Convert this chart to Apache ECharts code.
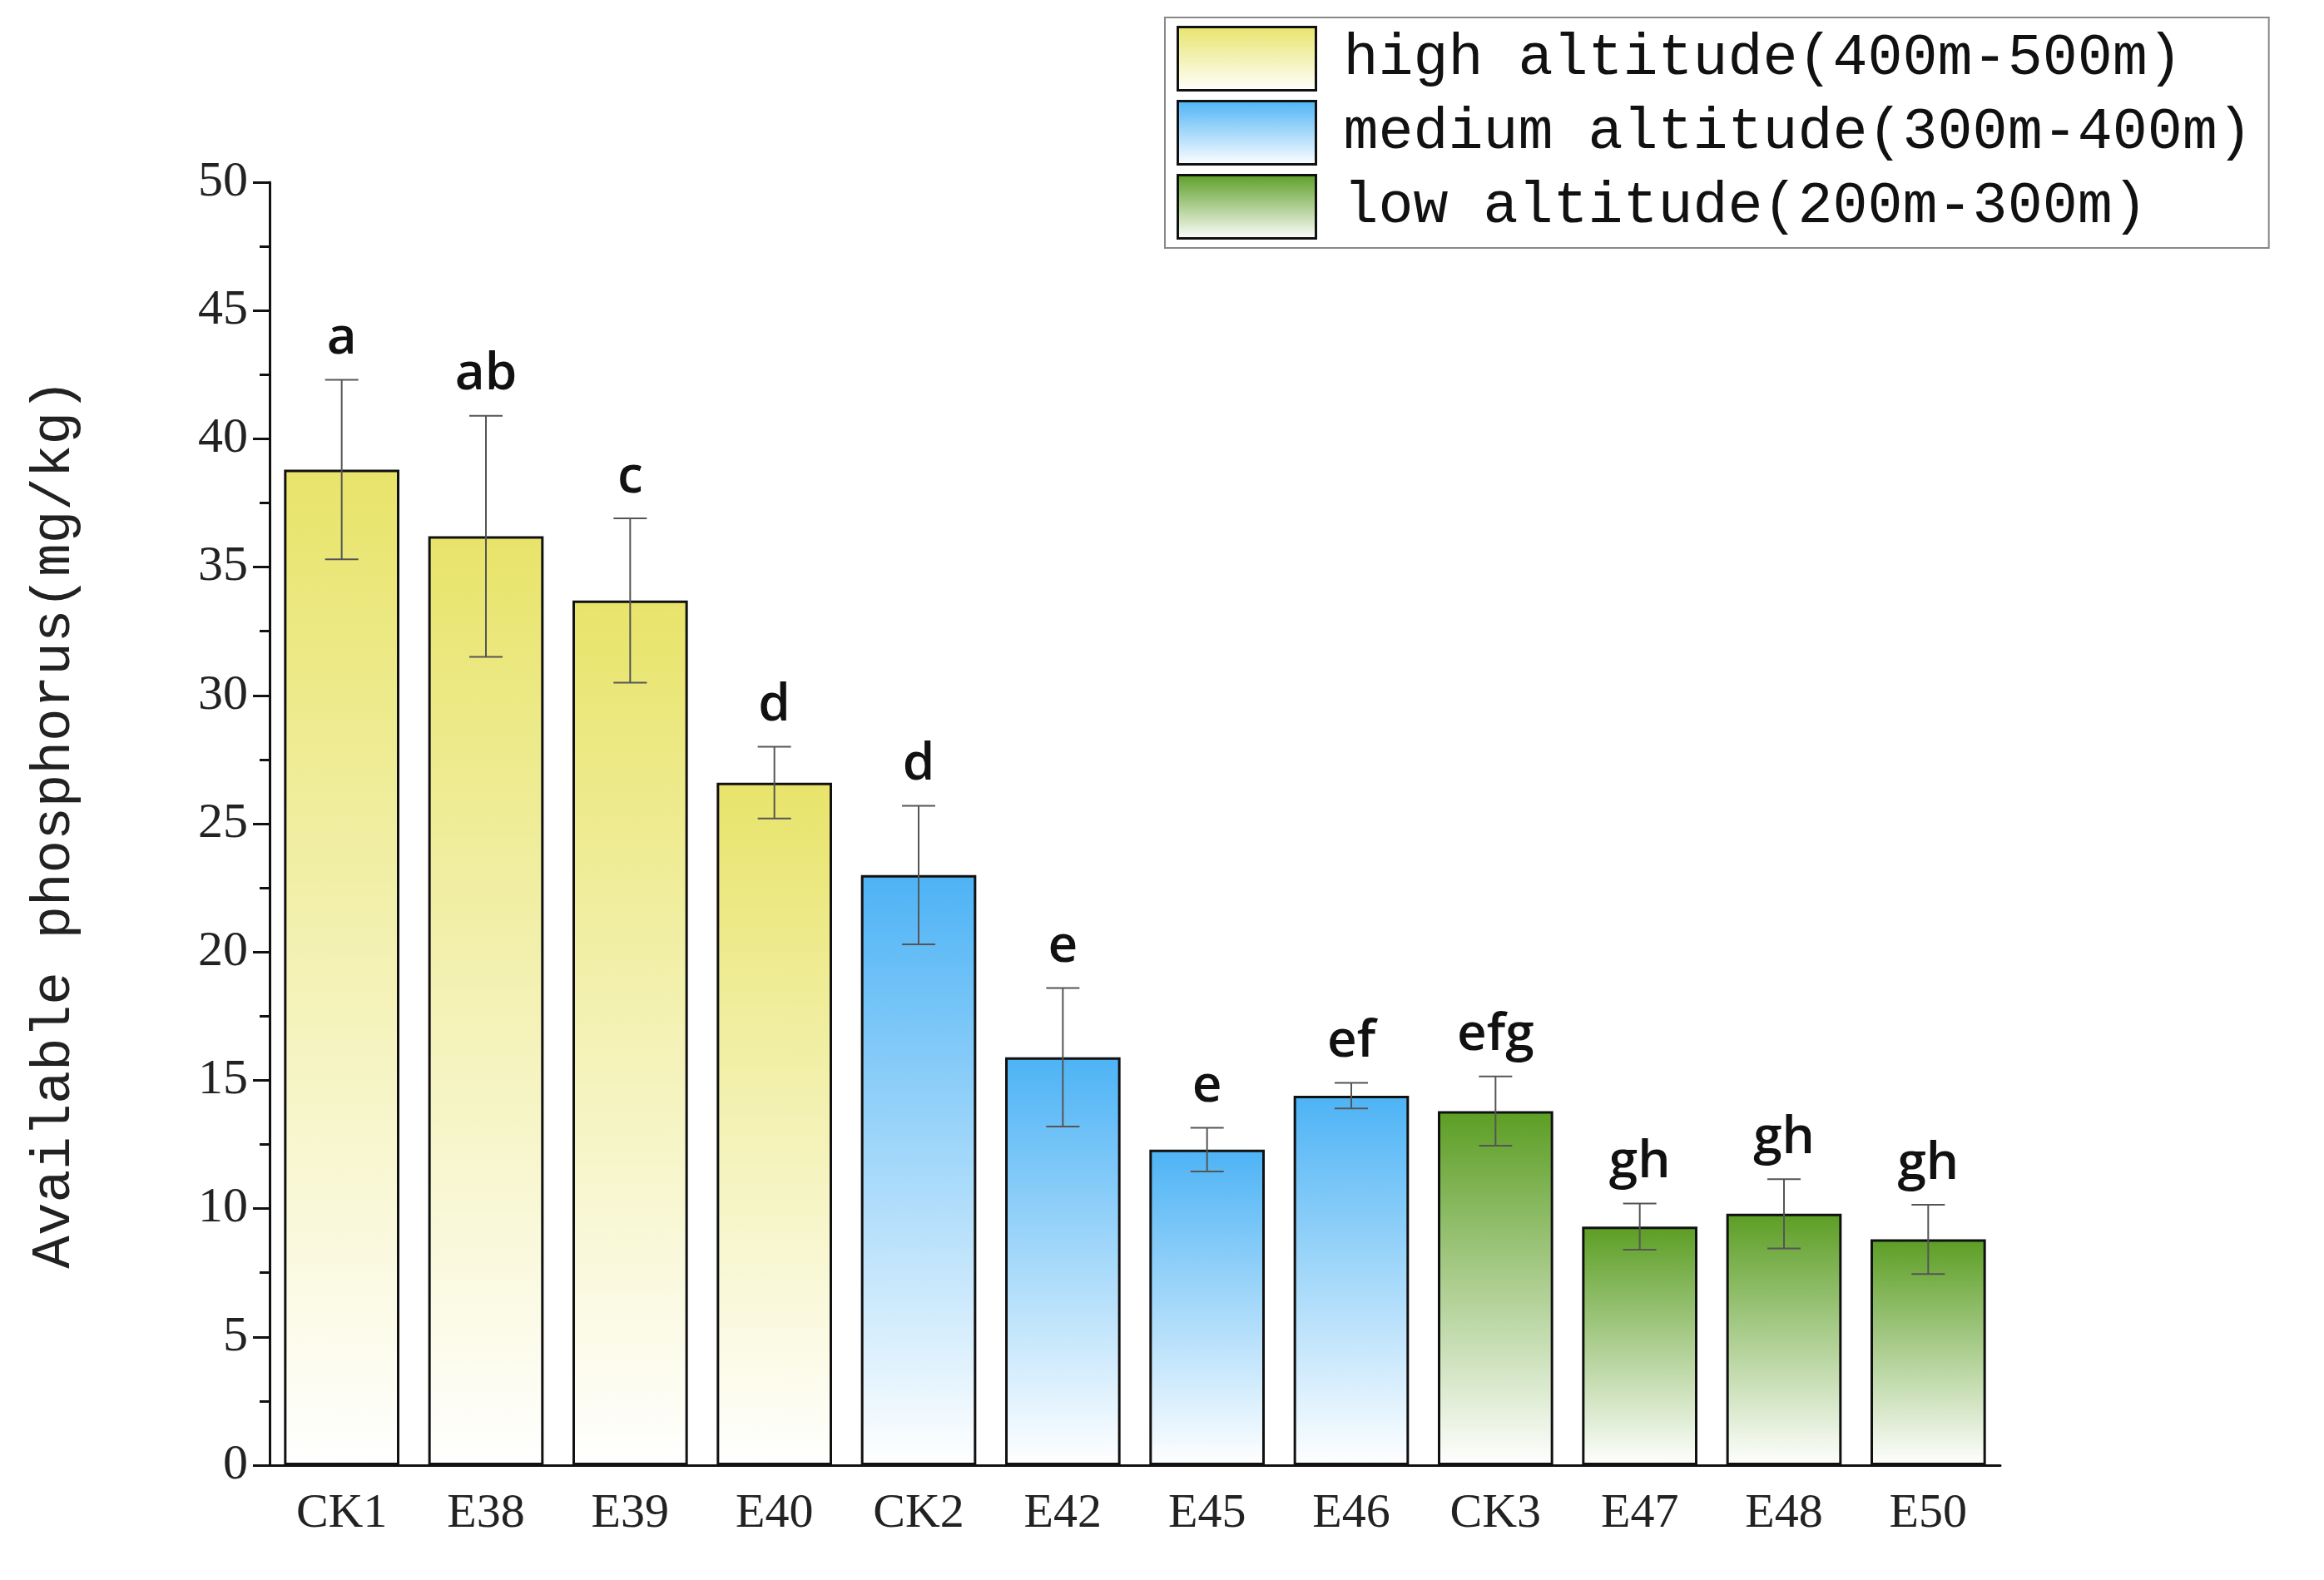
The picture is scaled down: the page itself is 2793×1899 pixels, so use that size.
<!DOCTYPE html>
<html><head><meta charset="utf-8">
<script src="https://cdn.jsdelivr.net/npm/echarts@6/dist/echarts.min.js"></script>
<style>html,body{margin:0;padding:0;background:#fff}#c{width:2793px;height:1899px}</style>
</head><body><div id="c"></div>
<script>
const categories = ['CK1','E38','E39','E40','CK2','E42','E45','E46','CK3','E47','E48','E50'];
const values = [38.8,36.2,33.7,26.6,23.0,15.9,12.3,14.4,13.8,9.3,9.8,8.8];
const errors = [3.5,4.7,3.2,1.4,2.7,2.7,0.85,0.5,1.35,0.9,1.35,1.35];
const letters = ['a','ab','c','d','d','e','e','ef','efg','gh','gh','gh'];
const groupNames = ['high altitude(400m-500m)','medium altitude(300m-400m)','low altitude(200m-300m)'];
const groupOf = [0,0,0,0,1,1,1,1,2,2,2,2];
const groupColors = ['#e8e46a','#4db3f5','#5c9e24'];

function grad(c){return new echarts.graphic.LinearGradient(0,0,0,1,[{offset:0,color:c},{offset:1,color:'#ffffff'}]);}
const barSeries = groupNames.map((n,g)=>({
  name:n, type:'bar', barWidth:'80%', barGap:'-100%',
  data: values.map((v,i)=>groupOf[i]===g? v : null),
  itemStyle:{color:grad(groupColors[g]), borderColor:'#111', borderWidth:3}
}));
const chart = echarts.init(document.getElementById('c'));
chart.setOption({
  animation:false,
  grid:{left:324,top:219,right:389,bottom:138},
  legend:{
    orient:'vertical', left:1400, top:21, width:1373,
    padding:[10,20,10,14], borderColor:'#888', borderWidth:2,
    itemWidth:166, itemHeight:76, itemGap:10, icon:'rect',
    textStyle:{fontFamily:'Liberation Mono', fontSize:70, color:'#111', padding:[0,0,0,28]},
    itemStyle:{borderColor:'#111', borderWidth:3},
    data:groupNames
  },
  xAxis:{type:'category', data:categories,
    axisLine:{lineStyle:{color:'#111',width:3}},
    axisTick:{alignWithLabel:true, length:14, lineStyle:{width:3}},
    axisLabel:{fontFamily:'Liberation Serif', fontSize:58, color:'#222', margin:30}},
  yAxis:{type:'value', min:0, max:50, interval:5,
    name:'Available phosphorus(mg/kg)', nameLocation:'middle', nameGap:225,
    nameTextStyle:{fontFamily:'Liberation Mono', fontSize:66, color:'#222'},
    axisLine:{show:true, lineStyle:{color:'#111',width:3}},
    axisTick:{show:true, inside:false, length:20, lineStyle:{width:3}},
    minorTick:{show:true, splitNumber:2, length:12, lineStyle:{color:'#111',width:3}},
    splitLine:{show:false},
    axisLabel:{fontFamily:'Liberation Serif', fontSize:60, color:'#222', margin:26}},
  series: barSeries.concat([{
    type:'custom', z:10,
    data: values.map((v,i)=>[i,v,errors[i],letters[i]]),
    renderItem:(p,api)=>{
      const i=api.value(0), v=api.value(1), e=api.value(2);
      const top=api.coord([i,v+e]), bot=api.coord([i,v-e]);
      const hw=20, st={stroke:'#555',lineWidth:2};
      return {type:'group',children:[
        {type:'line',shape:{x1:top[0],y1:top[1],x2:bot[0],y2:bot[1]},style:st},
        {type:'line',shape:{x1:top[0]-hw,y1:top[1],x2:top[0]+hw,y2:top[1]},style:st},
        {type:'line',shape:{x1:bot[0]-hw,y1:bot[1],x2:bot[0]+hw,y2:bot[1]},style:st},
        {type:'text',style:{x:top[0],y:top[1]-18,text:letters[i],textAlign:'center',textVerticalAlign:'bottom',
          font:'600 62px "Open Sans"',fill:'#111'}}
      ]};
    }
  }])
});
</script></body></html>
